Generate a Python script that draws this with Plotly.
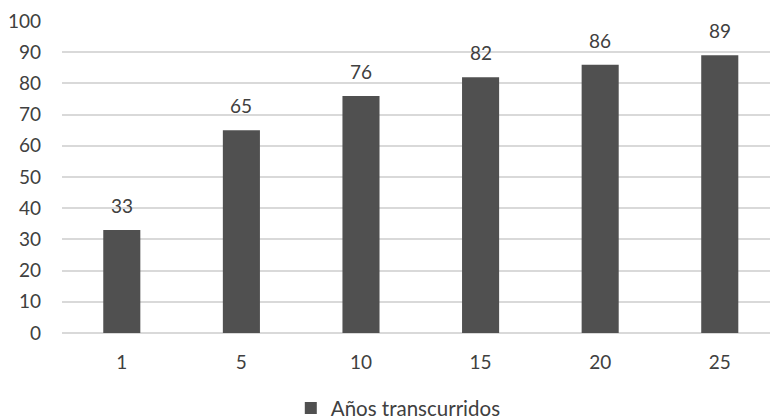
import plotly.graph_objects as go

# Data
categorias = ["1", "5", "10", "15", "20", "25"]
valores = [33, 65, 76, 82, 86, 89]
serie = "Años transcurridos"

bar_color = "#505050"
text_color = "#404040"
grid_color = "#d9d9d9"
font_family = "Lato, 'Open Sans', sans-serif"
font_size = 19

fig = go.Figure()
fig.add_trace(go.Bar(
    x=categorias,
    y=valores,
    name=serie,
    marker=dict(color=bar_color, line=dict(width=0)),
    width=0.31,
    showlegend=True,
))

# Value labels above each bar (category axis positions are indices)
for i, v in enumerate(valores):
    fig.add_annotation(
        x=i, y=v, text=str(v), showarrow=False,
        yanchor="bottom", yshift=11,
        font=dict(family=font_family, size=font_size, color=text_color),
    )

fig.update_layout(
    width=770, height=420,
    margin=dict(l=62, r=0, t=21, b=87, autoexpand=False),
    paper_bgcolor="white",
    plot_bgcolor="white",
    font=dict(family=font_family, size=font_size, color=text_color),
    legend=dict(
        orientation="h", x=0.475, xanchor="center",
        yref="container", y=0.028, yanchor="middle",
        font=dict(family=font_family, size=20.5, color=text_color),
    ),
    xaxis=dict(
        type="category",
        range=[-0.5, 5.42],
        showgrid=False, showline=False, zeroline=False,
        ticks="", ticklabelstandoff=16,
        tickfont=dict(family=font_family, size=font_size, color=text_color),
    ),
    yaxis=dict(
        range=[0, 100],
        dtick=10,
        showgrid=True, gridcolor=grid_color, gridwidth=1.5,
        zeroline=True, zerolinecolor=grid_color, zerolinewidth=1.5,
        showline=False, ticks="", ticklabelstandoff=20,
        tickfont=dict(family=font_family, size=font_size, color=text_color),
    ),
)

fig.write_html("out.html")
